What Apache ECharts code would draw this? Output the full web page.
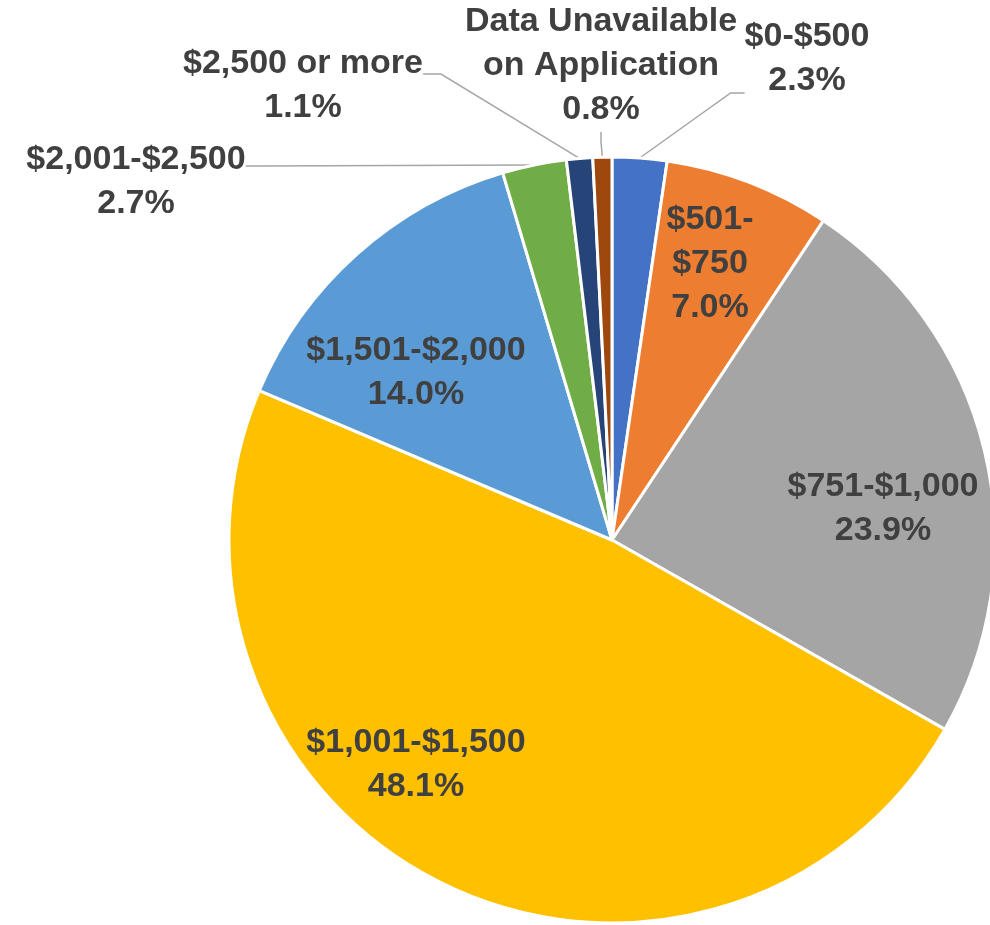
<!DOCTYPE html>
<html>
<head>
<meta charset="utf-8">
<script src="https://cdn.jsdelivr.net/npm/echarts@6/dist/echarts.min.js"></script>
<style>
  html, body { margin: 0; padding: 0; background: #ffffff; }
  #chart { width: 990px; height: 925px; }
</style>
</head>
<body>
<div id="chart"></div>
<script>
// ---- data ----
const categories = ['$0-$500', '$501-$750', '$751-$1,000', '$1,001-$1,500', '$1,501-$2,000', '$2,001-$2,500', '$2,500 or more', 'Data Unavailable on Application'];
const labelTexts = ['$0-$500', '$501-\n$750', '$751-$1,000', '$1,001-$1,500', '$1,501-$2,000', '$2,001-$2,500', '$2,500 or more', 'Data Unavailable\non Application'];
const percents = [2.3, 7.0, 23.9, 48.1, 14.0, 2.7, 1.1, 0.8];
const colors = ['#4472C4', '#ED7D31', '#A5A5A5', '#FFC000', '#5B9BD5', '#70AD47', '#264478', '#9E480E'];

// ---- label placement (styling, not data) ----
const labelPlacement = [
  { inside: false, x: 807, y: 15, va: 'top', pad: [0, 0, 68, 0], len2: 14 },
  { inside: true,  x: 710, y: 264 },
  { inside: true,  x: 883, y: 509 },
  { inside: true,  x: 416, y: 765 },
  { inside: true,  x: 416, y: 373 },
  { inside: false, x: 136, y: 106, va: 'top', pad: [32, 0, 0, 0], len2: 10 },
  { inside: false, x: 303, y: 18, va: 'top', pad: [24, 0, 0, 0], len2: 18 },
  { inside: false, x: 601, y: 0, va: 'top', pad: [0, 0, 0, 0], len2: 10 }
];

const chart = echarts.init(document.getElementById('chart'), null, { renderer: 'canvas' });

const data = categories.map((name, i) => {
  const lp = labelPlacement[i];
  const item = {
    name: name,
    value: percents[i],
    itemStyle: { color: colors[i] },
    label: {
      position: lp.inside ? 'inside' : 'outside'
    },
    labelLine: lp.inside ? { show: false } : {
      show: true,
      length: 10,
      length2: lp.len2,
      lineStyle: { color: '#A6A6A6', width: 1.5 }
    }
  };
  if (!lp.inside) {
    item.label.padding = lp.pad;
    item.label.backgroundColor = 'rgba(255,255,255,0)';
  }
  return item;
});

const option = {
  animation: false,
  backgroundColor: '#ffffff',
  series: [{
    type: 'pie',
    center: [612, 540],
    radius: 383,
    startAngle: 90,
    clockwise: true,
    avoidLabelOverlap: false,
    silent: true,
    itemStyle: { borderColor: '#ffffff', borderWidth: 3 },
    label: {
      show: true,
      color: '#404040',
      fontFamily: 'Liberation Sans',
      fontWeight: 'bold',
      fontSize: 34,
      lineHeight: 44,
      formatter: (p) => labelTexts[p.dataIndex] + '\n' + percents[p.dataIndex].toFixed(1) + '%'
    },
    labelLayout: (params) => {
      const lp = labelPlacement[params.dataIndex];
      return {
        x: lp.x,
        y: lp.y,
        align: 'center',
        verticalAlign: lp.va || 'middle'
      };
    },
    data: data
  }]
};

chart.setOption(option);
</script>
</body>
</html>
